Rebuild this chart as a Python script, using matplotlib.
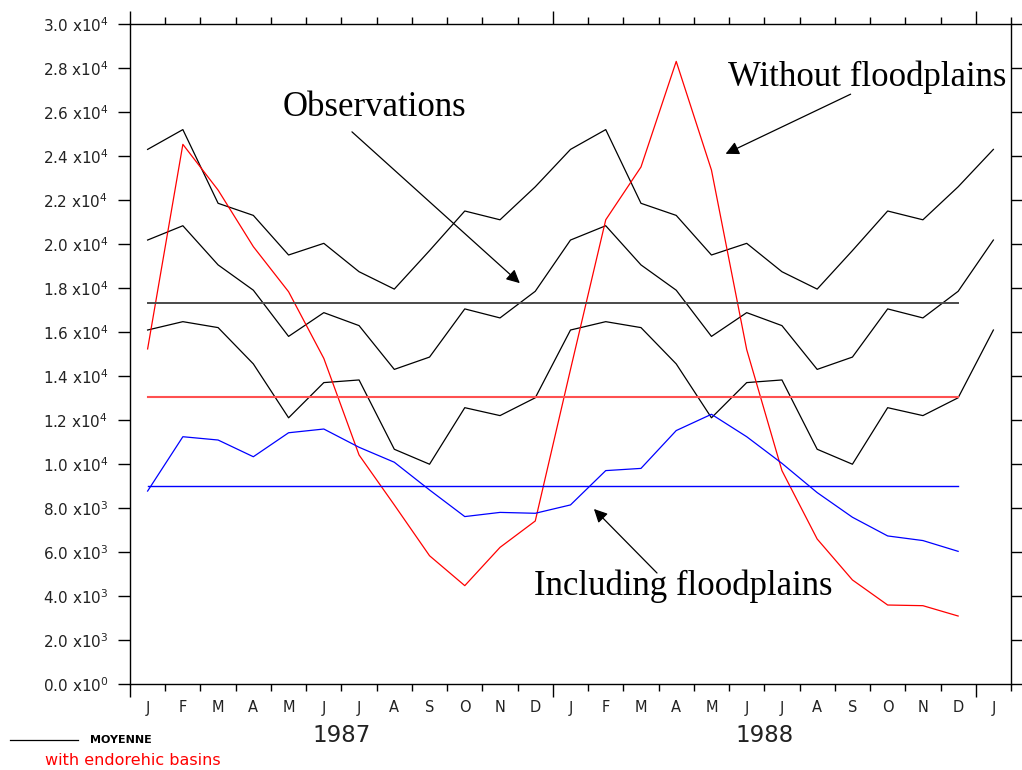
import matplotlib.pyplot as plt
from matplotlib.lines import Line2D
import numpy as np

# monthly discharge, observations (one year, repeated over the two years)
obs_high = [24300, 25200, 21850, 21300, 19500, 20030, 18740, 17950, 19700, 21500, 21100, 22600]
obs_mid = [20180, 20830, 19050, 17900, 15800, 16880, 16290, 14300, 14860, 17050, 16640, 17850]
obs_low = [16090, 16470, 16200, 14550, 12100, 13700, 13820, 10670, 9990, 12560, 12200, 13010]

# simulations Jan 1987 - Dec 1988
without_fp = [15230, 24530, 22450, 19880, 17830, 14800, 10410, 8140, 5830, 4470, 6210, 7410,
              14300, 21100, 23500, 28300, 23360, 15200, 9700, 6590, 4730, 3590, 3560, 3090]
with_fp = [8770, 11240, 11090, 10330, 11420, 11590, 10760, 10080, 8820, 7610, 7800, 7760,
           8140, 9700, 9800, 11520, 12260, 11240, 10030, 8700, 7580, 6730, 6520, 6030]

# means (horizontal lines)
obs_mean = 17320
without_mean = 13060
with_mean = 9010

months = ['J', 'F', 'M', 'A', 'M', 'J', 'J', 'A', 'S', 'O', 'N', 'D',
          'J', 'F', 'M', 'A', 'M', 'J', 'J', 'A', 'S', 'O', 'N', 'D', 'J']
years = ['1987', '1988']


def ytick_label(v):
    if v == 0:
        return r'0.0 x10$^{0}$'
    e = int(np.floor(np.log10(v)))
    return r'%.1f x10$^{%d}$' % (v / 10 ** e, e)


W, H = 1022, 770
fig = plt.figure(figsize=(W / 100, H / 100), dpi=100)
ax = fig.add_axes([130 / W, 1 - 684 / H, 881 / W, 660 / H])

x_obs = np.arange(len(months)) + 0.5
x_sim = np.arange(len(without_fp)) + 0.5

for s in (obs_high, obs_mid, obs_low):
    ax.plot(x_obs, s * 2 + s[:1], color='black', lw=0.9)

ax.plot(x_sim, without_fp, color='#ff0000', lw=0.9)
ax.plot(x_sim, with_fp, color='#0000ff', lw=0.9)

x0, x1 = x_sim[0], x_sim[-1]
ax.plot([x0, x1], [obs_mean] * 2, color='#4a4a4a', lw=1.4)
ax.plot([x0, x1], [without_mean] * 2, color='#ff5050', lw=1.5)
ax.plot([x0, x1], [with_mean] * 2, color='#0000ff', lw=1.0)

ax.set_xlim(0, len(months))
ax.set_ylim(0, 30000)

yt = np.arange(0, 30001, 2000)
ax.set_yticks(yt)
ax.set_yticklabels([ytick_label(v) for v in yt], fontsize=11, color='#222222')
ax.tick_params(axis='y', which='both', direction='out', length=8.6, width=1.0,
               pad=7, right=True)

ax.set_xticks([0, 12, 24])
ax.set_xticks([i for i in range(1, 26) if i not in (12, 24)], minor=True)
ax.set_xticklabels([])
ax.tick_params(axis='x', which='major', direction='out', length=9.4, width=1.0, top=True)
ax.tick_params(axis='x', which='minor', direction='out', length=5, width=1.0, top=True)
for sp in ax.spines.values():
    sp.set_linewidth(1.0)

tr = ax.get_xaxis_transform()
for i, m in enumerate(months):
    ax.text(i + 0.5, -24 / 660, m, transform=tr, ha='center', va='center',
            fontsize=10.5, color='#222222')
for i, yr in enumerate(years):
    ax.text(6 + 12 * i, -51 / 660, yr, transform=tr, ha='center', va='center',
            fontsize=16.5, color='#222222')

# annotations
serif = 'Liberation Serif'
arrow = dict(arrowstyle='-|>', color='black', lw=0.9, mutation_scale=20)
ax.text(4.34, 26227, 'Observations', family=serif, fontsize=25, va='center', ha='left')
ax.annotate('', xy=(11.12, 18136), xytext=(6.24, 25182), arrowprops=arrow)
ax.text(16.97, 27591, 'Without floodplains', family=serif, fontsize=25, va='center', ha='left')
ax.annotate('', xy=(16.83, 24045), xytext=(20.52, 26864), arrowprops=arrow)
ax.text(11.46, 4455, 'Including floodplains', family=serif, fontsize=25, va='center', ha='left')
ax.annotate('', xy=(13.11, 8045), xytext=(15.01, 4955), arrowprops=arrow)

# legend at the bottom
fig.add_artist(Line2D([10 / W, 78 / W], [1 - 740 / H] * 2, color='black', lw=0.9))
fig.text(90 / W, 1 - 740 / H, 'MOYENNE', fontsize=8, fontweight='bold', va='center')
fig.text(45 / W, 5 / H, 'with endorehic basins', fontsize=11.5, color='#ff0000', va='baseline')

fig.savefig('out.png', dpi=100)
